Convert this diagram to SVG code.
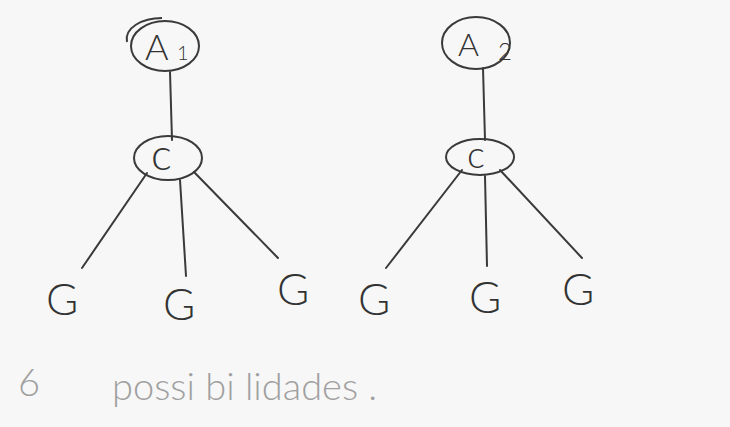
<svg xmlns="http://www.w3.org/2000/svg" width="730" height="427" viewBox="0 0 730 427">
<style>
.bg{fill:#f7f7f7}
.node{fill:none;stroke:#3a3a3a;stroke-width:2}
.edge{stroke:#3a3a3a;stroke-width:2;fill:none;stroke-linecap:round}
.lbl{font-family:Lato,"Open Sans","Liberation Sans",sans-serif;font-weight:300;fill:#333}
.g{font-size:44px}
.note{font-family:Lato,"Liberation Sans",sans-serif;font-weight:300;font-size:38px;fill:#a0a0a0}
</style>
<rect class="bg" x="0" y="0" width="730" height="427"/>
<g id="connectors">
<path class="edge" d="M170 72 L172 140"/>
<path class="edge" d="M147 173 L82 268"/>
<path class="edge" d="M180 180 L186 276"/>
<path class="edge" d="M194 172 L278 258"/>
<path class="edge" d="M483 68 L485 140"/>
<path class="edge" d="M462 170 L386 268"/>
<path class="edge" d="M485 176 L487 266"/>
<path class="edge" d="M500 170 L582 258"/>
</g>
<g id="A1">
<ellipse class="node" cx="165" cy="46" rx="34" ry="25"/>
<path class="node" d="M127 42 C124 28 142 18 162 18" />
<text class="lbl" x="145" y="60" font-size="36">A</text>
<text class="lbl" x="177" y="60" font-size="20">1</text>
</g>
<g id="A2">
<ellipse class="node" cx="476" cy="43" rx="34" ry="26"/>
<text class="lbl" x="458" y="56" font-size="32">A</text>
<text class="lbl" x="498" y="60" font-size="24">2</text>
</g>
<g id="C1">
<ellipse class="node" cx="168" cy="158" rx="34" ry="22"/>
<text class="lbl" x="151" y="170" font-size="44">c</text>
</g>
<g id="C2">
<ellipse class="node" cx="480" cy="157" rx="34" ry="18"/>
<text class="lbl" x="467" y="168" font-size="38">c</text>
</g>
<g id="G1"><text class="lbl g" x="46" y="315">G</text></g>
<g id="G2"><text class="lbl g" x="163" y="320">G</text></g>
<g id="G3"><text class="lbl g" x="277" y="305">G</text></g>
<g id="G4"><text class="lbl g" x="358" y="315">G</text></g>
<g id="G5"><text class="lbl g" x="469" y="313">G</text></g>
<g id="G6"><text class="lbl g" x="562" y="305">G</text></g>
<text class="note" x="18" y="396" font-size="48">6</text>
<text class="note" x="112" y="400">possi bi lidades .</text>
</svg>
